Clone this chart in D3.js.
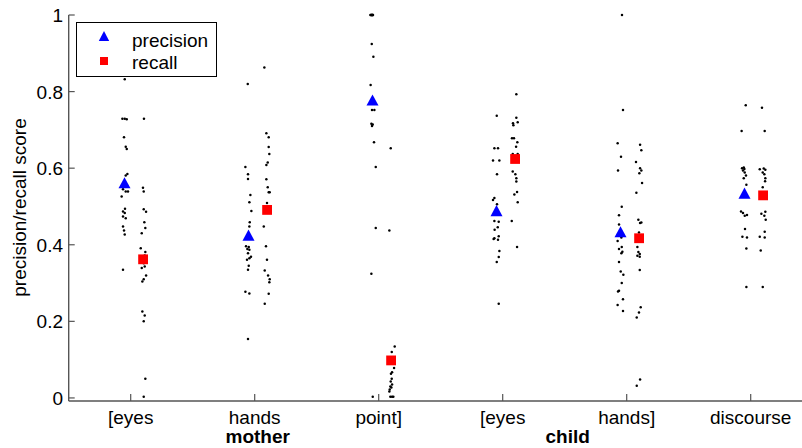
<!DOCTYPE html>
<html>
<head>
<meta charset="utf-8">
<script src="https://cdn.jsdelivr.net/npm/d3@7"></script>
<style>
  body { margin: 0; background: #fff; }
  svg { display: block; font-family: "Liberation Sans", Arial, sans-serif; }
</style>
</head>
<body>
<div id="chart"></div>
<script>
// categories along x, and the two speaker groups beneath them
var categories = ["[eyes", "hands", "point]", "[eyes", "hands]", "discourse"];
var groupLabels = ["mother", "child"];
var groupAt = [2, 4.5];
var yTicks = [0, 0.2, 0.4, 0.6, 0.8, 1];

// mean scores (big markers)
var precisionMean = [0.562, 0.425, 0.778, 0.489, 0.434, 0.535];
var recallMean = [0.362, 0.491, 0.098, 0.624, 0.417, 0.529];

// individual scores: [score, jitter in category units]
var precEyesM = [[0.832,-0.048],[0.729,-0.067],[0.729,-0.048],[0.728,-0.032],[0.681,-0.054],[0.656,-0.040],[0.650,-0.032],[0.585,-0.027],[0.581,-0.040],[0.545,-0.062],[0.539,-0.040],[0.539,-0.022],[0.526,-0.073],[0.494,-0.046],[0.487,-0.062],[0.483,-0.048],[0.474,-0.062],[0.469,-0.040],[0.448,-0.062],[0.437,-0.054],[0.427,-0.048],[0.335,-0.062]];
var recEyesM = [[0.729,0.107],[0.549,0.099],[0.539,0.105],[0.493,0.105],[0.486,0.124],[0.459,0.110],[0.444,0.118],[0.430,0.089],[0.391,0.081],[0.381,0.118],[0.372,0.113],[0.352,0.105],[0.343,0.113],[0.339,0.089],[0.320,0.124],[0.310,0.105],[0.304,0.094],[0.226,0.094],[0.215,0.113],[0.200,0.105],[0.050,0.118],[0.003,0.105]];
var precHandsM = [[0.820,-0.056],[0.603,-0.075],[0.584,-0.054],[0.572,-0.054],[0.530,-0.035],[0.511,-0.043],[0.488,-0.027],[0.459,-0.040],[0.448,-0.043],[0.396,-0.070],[0.394,-0.048],[0.389,-0.059],[0.387,-0.043],[0.378,-0.054],[0.369,-0.030],[0.365,-0.043],[0.361,-0.062],[0.345,-0.048],[0.335,-0.054],[0.277,-0.075],[0.273,-0.043],[0.154,-0.054]];
var recHandsM = [[0.863,0.078],[0.691,0.094],[0.681,0.113],[0.655,0.113],[0.637,0.118],[0.615,0.105],[0.608,0.094],[0.571,0.094],[0.550,0.105],[0.537,0.113],[0.537,0.121],[0.509,0.099],[0.448,0.073],[0.396,0.091],[0.361,0.099],[0.333,0.081],[0.320,0.108],[0.310,0.121],[0.302,0.118],[0.272,0.113],[0.246,0.081]];
var precPointM = [[1.0,-0.067],[1.0,-0.062],[1.0,-0.059],[1.0,-0.056],[1.0,-0.054],[1.0,-0.051],[1.0,-0.048],[1.0,-0.046],[0.924,-0.056],[0.891,-0.043],[0.817,-0.065],[0.752,-0.054],[0.752,-0.035],[0.716,-0.059],[0.714,-0.048],[0.710,-0.054],[0.668,-0.038],[0.603,-0.024],[0.444,-0.024],[0.324,-0.059],[0.003,-0.048]];
var recPointM = [[0.652,0.097],[0.437,0.086],[0.134,0.129],[0.120,0.105],[0.078,0.124],[0.067,0.108],[0.063,0.099],[0.050,0.105],[0.043,0.097],[0.035,0.108],[0.030,0.094],[0.027,0.102],[0.022,0.089],[0.017,0.086],[0.003,0.094],[0.003,0.108],[0.003,0.118]];
var precEyesC = [[0.737,-0.048],[0.652,-0.067],[0.652,-0.038],[0.620,-0.078],[0.620,-0.027],[0.584,-0.046],[0.522,-0.067],[0.517,-0.078],[0.506,-0.046],[0.462,-0.067],[0.460,-0.032],[0.446,-0.040],[0.439,-0.065],[0.422,-0.032],[0.417,-0.067],[0.415,-0.073],[0.413,-0.038],[0.384,-0.027],[0.368,-0.032],[0.355,-0.048],[0.246,-0.032]];
var recEyesC = [[0.793,0.110],[0.732,0.110],[0.720,0.121],[0.717,0.083],[0.712,0.086],[0.678,0.075],[0.678,0.091],[0.668,0.118],[0.656,0.108],[0.637,0.081],[0.637,0.121],[0.591,0.081],[0.584,0.102],[0.574,0.110],[0.565,0.110],[0.538,0.116],[0.531,0.094],[0.511,0.121],[0.462,0.073],[0.394,0.116]];
var precHandsC = [[1.0,-0.038],[0.752,-0.030],[0.665,-0.073],[0.630,-0.046],[0.594,-0.070],[0.499,-0.040],[0.477,-0.062],[0.453,-0.062],[0.419,-0.043],[0.410,-0.073],[0.394,-0.040],[0.389,-0.062],[0.382,-0.035],[0.378,-0.043],[0.355,-0.062],[0.330,-0.048],[0.322,-0.027],[0.300,-0.040],[0.280,-0.062],[0.278,-0.070],[0.258,-0.030],[0.243,-0.073],[0.227,-0.030]];
var recHandsC = [[0.661,0.108],[0.647,0.118],[0.616,0.075],[0.600,0.108],[0.594,0.118],[0.587,0.102],[0.561,0.124],[0.536,0.078],[0.465,0.094],[0.458,0.118],[0.457,0.108],[0.432,0.099],[0.394,0.086],[0.381,0.094],[0.376,0.105],[0.371,0.086],[0.369,0.105],[0.334,0.105],[0.237,0.113],[0.223,0.099],[0.210,0.081],[0.048,0.108],[0.032,0.081]];
var precDisc = [[0.764,-0.040],[0.697,-0.073],[0.602,-0.056],[0.600,-0.070],[0.598,-0.051],[0.594,-0.062],[0.589,-0.048],[0.581,-0.038],[0.574,-0.056],[0.557,-0.035],[0.487,-0.078],[0.483,-0.062],[0.478,-0.030],[0.476,-0.048],[0.441,-0.046],[0.421,-0.067],[0.419,-0.030],[0.390,-0.035],[0.290,-0.035]];
var recDisc = [[0.758,0.091],[0.697,0.113],[0.599,0.105],[0.597,0.073],[0.596,0.118],[0.589,0.097],[0.584,0.110],[0.574,0.118],[0.566,0.116],[0.550,0.097],[0.486,0.118],[0.481,0.086],[0.476,0.110],[0.465,0.121],[0.434,0.113],[0.421,0.073],[0.419,0.113],[0.385,0.081],[0.290,0.097]];

var precisionScores = [precEyesM, precHandsM, precPointM, precEyesC, precHandsC, precDisc];
var recallScores = [recEyesM, recHandsM, recPointM, recEyesC, recHandsC, recDisc];

var W = 802, H = 448;
var svg = d3.select("#chart").append("svg")
  .attr("width", W)
  .attr("height", H);

var x = d3.scaleLinear().domain([0.5, 6.5]).range([68.7, 812.7]);
var y = d3.scaleLinear().domain([-0.008, 1]).range([401, 15]);

var axisColor = "#555";
var fontSize = 19;

// axes
svg.append("line")
  .attr("x1", x(0.5)).attr("x2", W)
  .attr("y1", y(-0.008)).attr("y2", y(-0.008))
  .attr("stroke", axisColor).attr("stroke-width", 1.4);
svg.append("line")
  .attr("x1", x(0.5)).attr("x2", x(0.5))
  .attr("y1", y(-0.008)).attr("y2", y(1))
  .attr("stroke", axisColor).attr("stroke-width", 1.4);

// y ticks (inward) and labels
svg.selectAll(".ytick").data(yTicks).enter().append("line")
  .attr("x1", x(0.5)).attr("x2", x(0.5) + 6)
  .attr("y1", function (d) { return y(d); })
  .attr("y2", function (d) { return y(d); })
  .attr("stroke", axisColor).attr("stroke-width", 1.2);
svg.selectAll(".ylab").data(yTicks).enter().append("text")
  .attr("x", 63)
  .attr("y", function (d) { return y(d) + 7; })
  .attr("text-anchor", "end")
  .attr("font-size", fontSize)
  .text(function (d) { return d3.format("")(d); });

// x ticks (inward) and labels
svg.selectAll(".xtick").data(categories).enter().append("line")
  .attr("x1", function (d, i) { return x(i + 1); })
  .attr("x2", function (d, i) { return x(i + 1); })
  .attr("y1", y(-0.008)).attr("y2", y(-0.008) - 7)
  .attr("stroke", axisColor).attr("stroke-width", 1.2);
svg.selectAll(".xlab").data(categories).enter().append("text")
  .attr("x", function (d, i) { return x(i + 1); })
  .attr("y", 423.5)
  .attr("text-anchor", "middle")
  .attr("font-size", fontSize)
  .text(function (d) { return d; });
svg.selectAll(".glab").data(groupLabels).enter().append("text")
  .attr("x", function (d, i) { return x(groupAt[i]) + 3; })
  .attr("y", 442.5)
  .attr("text-anchor", "middle")
  .attr("font-size", fontSize)
  .attr("font-weight", "bold")
  .text(function (d) { return d; });

// y axis title
svg.append("text")
  .attr("transform", "translate(26,207.5) rotate(-90)")
  .attr("text-anchor", "middle")
  .attr("font-size", fontSize)
  .text("precision/recall score");

// individual scores
var dots = [];
precisionScores.forEach(function (arr, i) {
  arr.forEach(function (p) { dots.push({ c: i + 1, v: p[0], dx: p[1] }); });
});
recallScores.forEach(function (arr, i) {
  arr.forEach(function (p) { dots.push({ c: i + 1, v: p[0], dx: p[1] }); });
});
svg.append("g").selectAll("circle").data(dots).enter().append("circle")
  .attr("cx", function (d) { return x(d.c + d.dx); })
  .attr("cy", function (d) { return y(d.v); })
  .attr("r", 1.25)
  .attr("fill", "#000");

// mean markers
function triPath(hw, hh) {
  return "M0," + (-hh) + "L" + hw + "," + hh + "L" + (-hw) + "," + hh + "Z";
}
svg.append("g").selectAll("path").data(precisionMean).enter().append("path")
  .attr("d", triPath(6, 5.6))
  .attr("transform", function (d, i) { return "translate(" + x(i + 1 - 0.05) + "," + y(d) + ")"; })
  .attr("fill", "#0000ff");
svg.append("g").selectAll("rect").data(recallMean).enter().append("rect")
  .attr("x", function (d, i) { return x(i + 1 + 0.1) - 4.9; })
  .attr("y", function (d) { return y(d) - 4.9; })
  .attr("width", 9.8).attr("height", 9.8)
  .attr("fill", "#ff0000");

// legend
var lg = svg.append("g");
lg.append("rect")
  .attr("x", 76.5).attr("y", 22.5)
  .attr("width", 140).attr("height", 54)
  .attr("fill", "#fff").attr("stroke", "#000").attr("stroke-width", 1);
lg.append("path")
  .attr("d", triPath(5.2, 5))
  .attr("transform", "translate(104,36)")
  .attr("fill", "#0000ff");
lg.append("rect")
  .attr("x", 100).attr("y", 57).attr("width", 8).attr("height", 8)
  .attr("fill", "#ff0000");
lg.append("text").attr("x", 132).attr("y", 46.5)
  .attr("font-size", fontSize).text("precision");
lg.append("text").attr("x", 132).attr("y", 68.5)
  .attr("font-size", fontSize).text("recall");
</script>
</body>
</html>
